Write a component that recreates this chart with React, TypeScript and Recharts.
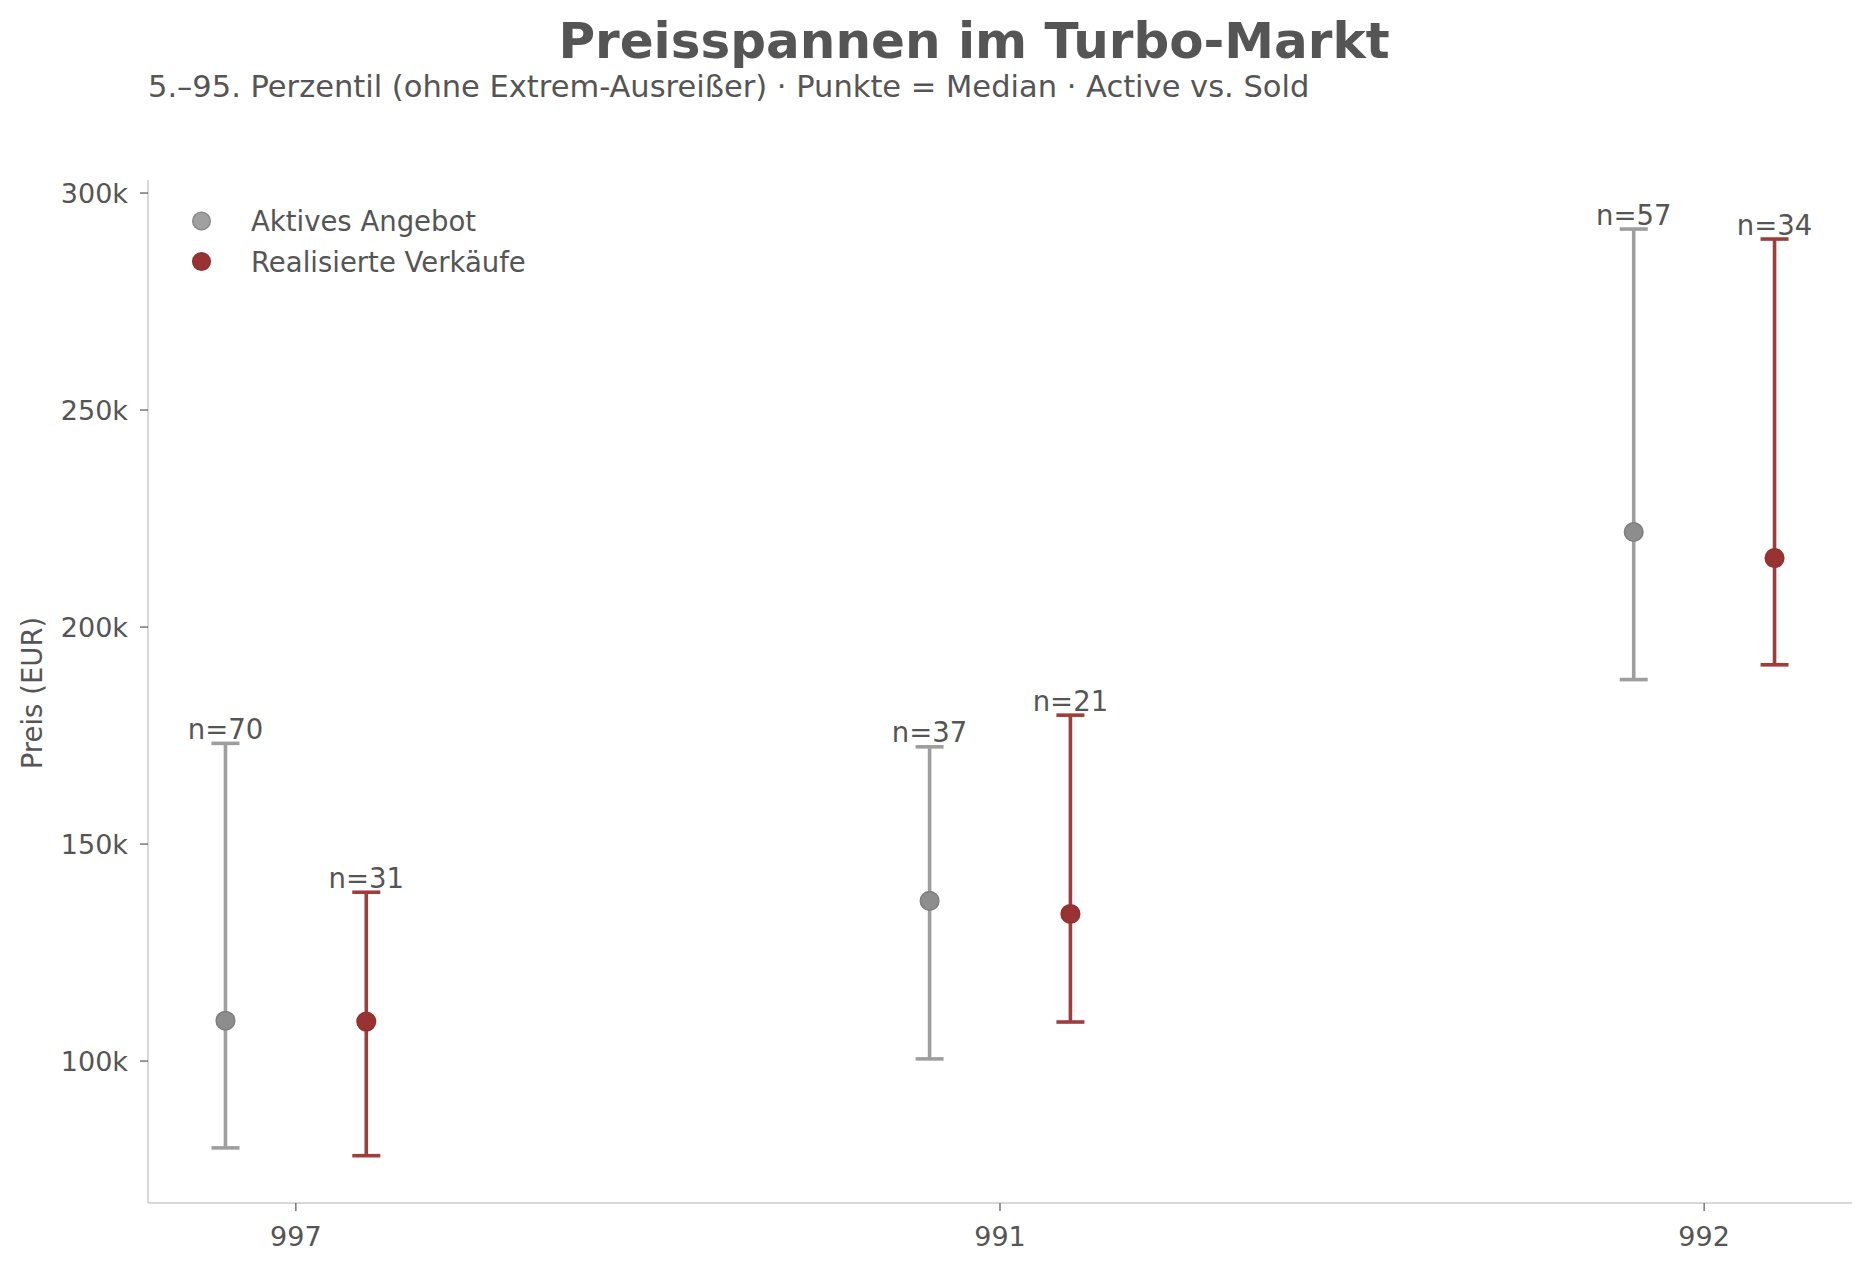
import { ScatterChart, Scatter, XAxis, YAxis, ErrorBar } from 'recharts';

// Kategorien (Modelle) und Perzentile je Serie
const CATEGORIES = ['997', '991', '992'];

const ACTIVE_MEDIAN = [109300, 136900, 221900];
const ACTIVE_P5 = [80000, 100500, 187900];
const ACTIVE_P95 = [173200, 172400, 291700];
const ACTIVE_N = [70, 37, 57];

const SOLD_MEDIAN = [109100, 133900, 215900];
const SOLD_P5 = [78200, 109000, 191300];
const SOLD_P95 = [138900, 179700, 289400];
const SOLD_N = [31, 21, 34];

const Y_TICKS = [100000, 150000, 200000, 250000, 300000];

const FONT = "'DejaVu Sans', sans-serif";
const TEXT = '#555555';

const GRAY = {
  line: '#9e9e9e',
  fill: '#8d8d8d',
  edge: '#7e7e7e',
};
const RED = {
  line: '#9f3c3c',
  fill: '#993333',
  edge: '#923030',
};

const buildRows = (median: number[], p5: number[], p95: number[], n: number[], offset: number) =>
  CATEGORIES.map((_, i) => ({
    x: i + offset,
    y: median[i],
    err: [median[i] - p5[i], p95[i] - median[i]],
    n: n[i],
  }));

const buildLabels = (p95: number[], n: number[], offset: number) =>
  CATEGORIES.map((_, i) => ({ x: i + offset, y: p95[i], n: n[i] }));

const activeRows = buildRows(ACTIVE_MEDIAN, ACTIVE_P5, ACTIVE_P95, ACTIVE_N, -0.1);
const soldRows = buildRows(SOLD_MEDIAN, SOLD_P5, SOLD_P95, SOLD_N, 0.1);
const activeLabels = buildLabels(ACTIVE_P95, ACTIVE_N, -0.1);
const soldLabels = buildLabels(SOLD_P95, SOLD_N, 0.1);

const dot = (c: typeof GRAY) => (props: any) => (
  <circle cx={props.cx} cy={props.cy} r={9.3} fill={c.fill} stroke={c.edge} strokeWidth={1.5} />
);

const nLabel = (props: any) => (
  <text
    x={props.cx}
    y={props.cy - 4.5}
    textAnchor="middle"
    fill={TEXT}
    fontSize={27.5}
    fontFamily={FONT}
  >
    {`n=${props.payload.n}`}
  </text>
);

export default function App() {
  return (
    <div style={{ position: 'absolute', left: 0, top: 0, width: 1872, height: 1270, background: '#fff' }}>
      <ScatterChart width={1872} height={1270} margin={{ top: 180, right: 20, bottom: 0, left: 0 }}>
        <XAxis
          type="number"
          dataKey="x"
          domain={[-0.21, 2.21]}
          ticks={[0, 1, 2]}
          allowDataOverflow
          tickFormatter={(v: number) => CATEGORIES[v] ?? ''}
          height={67}
          axisLine={{ stroke: '#cccccc', strokeWidth: 1.5 }}
          tickLine={{ stroke: TEXT, strokeWidth: 1.2 }}
          tickSize={8}
          tickMargin={16}
          tick={{ fill: TEXT, fontSize: 27, fontFamily: FONT }}
        />
        <YAxis
          type="number"
          dataKey="y"
          domain={[67300, 303000]}
          ticks={Y_TICKS}
          allowDataOverflow
          tickFormatter={(v: number) => `${v / 1000}k`}
          width={148}
          axisLine={{ stroke: '#cccccc', strokeWidth: 1.5 }}
          tickLine={{ stroke: TEXT, strokeWidth: 1.2 }}
          tickSize={8}
          tickMargin={12}
          tick={{ fill: TEXT, fontSize: 27, fontFamily: FONT }}
        />
        <Scatter data={activeRows} shape={dot(GRAY)} isAnimationActive={false}>
          <ErrorBar dataKey="err" direction="y" width={14} stroke={GRAY.line} strokeWidth={3.6} />
        </Scatter>
        <Scatter data={soldRows} shape={dot(RED)} isAnimationActive={false}>
          <ErrorBar dataKey="err" direction="y" width={14} stroke={RED.line} strokeWidth={3.6} />
        </Scatter>
        <Scatter data={activeLabels} shape={nLabel} isAnimationActive={false} />
        <Scatter data={soldLabels} shape={nLabel} isAnimationActive={false} />
      </ScatterChart>

      <svg
        width={1872}
        height={1270}
        style={{ position: 'absolute', left: 0, top: 0, pointerEvents: 'none' }}
      >
        <text x={974} y={58} textAnchor="middle" fill={TEXT} fontSize={50} fontWeight="bold" fontFamily={FONT}>
          Preisspannen im Turbo-Markt
        </text>
        <text x={148} y={97} fill={TEXT} fontSize={30.5} fontFamily={FONT}>
          5.–95. Perzentil (ohne Extrem-Ausreißer) · Punkte = Median · Active vs. Sold
        </text>
        <text
          transform="translate(42, 693) rotate(-90)"
          textAnchor="middle"
          fill={TEXT}
          fontSize={27.5}
          fontFamily={FONT}
        >
          Preis (EUR)
        </text>
        <circle cx={201.5} cy={221} r={8.8} fill="#a0a0a0" stroke="#8a8a8a" strokeWidth={1.5} />
        <text x={251} y={231} fill={TEXT} fontSize={27.5} fontFamily={FONT}>
          Aktives Angebot
        </text>
        <circle cx={201.5} cy={261.5} r={8.8} fill={RED.fill} stroke={RED.edge} strokeWidth={1.5} />
        <text x={251} y={271.5} fill={TEXT} fontSize={27.5} fontFamily={FONT}>
          Realisierte Verkäufe
        </text>
      </svg>
    </div>
  );
}
